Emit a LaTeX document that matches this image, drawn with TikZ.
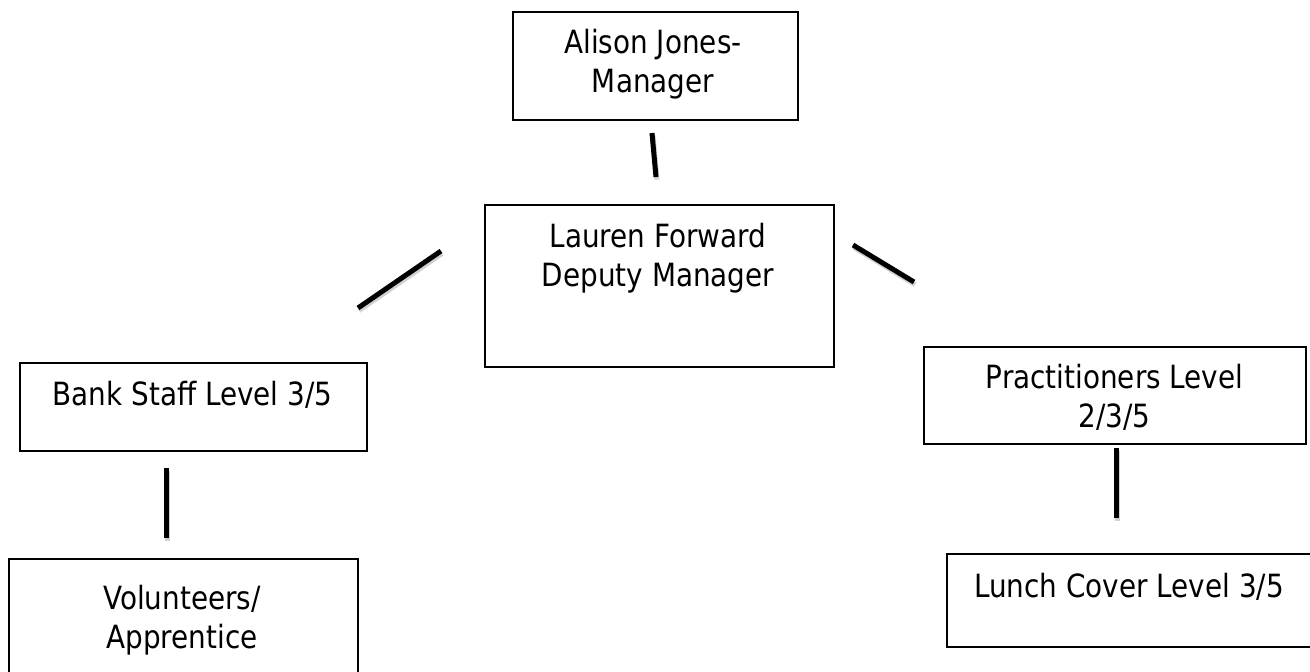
\documentclass[tikz,border=0pt]{standalone}
\usepackage{fontspec}
\setmainfont{DejaVu Sans}[FakeStretch=0.87]
\begin{document}
\begin{tikzpicture}[x=1pt,y=-1pt,
  box/.style={draw, line width=1.6pt, rectangle, inner sep=0pt, anchor=north west},
  lbl/.style={anchor=base, align=center, inner sep=0pt, font=\fontsize{32}{39}\selectfont},
  link/.style={line width=5pt, black},
  linkshadow/.style={line width=5pt, black!18}]
\useasboundingbox (0,0) rectangle (1310,672);
\begin{scope}
\clip (0,0) rectangle (1310,672);
% boxes
\node[box, minimum width=285pt, minimum height=108pt] (alison) at (512,11) {};
\node[box, minimum width=349pt, minimum height=162pt] (lauren) at (484,204) {};
\node[box, minimum width=347pt, minimum height=88pt] (bank) at (19,362) {};
\node[box, minimum width=382pt, minimum height=97pt] (prac) at (923,346) {};
\node[box, minimum width=349pt, minimum height=140pt] (vol) at (8,558) {};
\node[box, minimum width=366pt, minimum height=93pt] (lunch) at (946,553) {};
% labels (multi-line: anchor at last baseline)
\node[lbl] (alisonT) at (653,92) {Alison Jones-\\Manager};
\node[lbl] (laurenT) at (658,286) {Lauren Forward\\Deputy Manager};
\node[lbl] (bankT) at (192.5,405) {Bank Staff Level 3/5};
\node[lbl] (pracT) at (1114.5,427) {Practitioners Level\\2/3/5};
\node[lbl] (volT) at (182,648) {Volunteers/\\Apprentice};
\node[lbl] (lunchT) at (1129,597) {Lunch Cover Level 3/5};
% connector end points
\coordinate (a1) at (652,133); \coordinate (a2) at (656,177);
\coordinate (b1) at (441,251); \coordinate (b2) at (358,308);
\coordinate (c1) at (853,245); \coordinate (c2) at (914,282);
\coordinate (d1) at (166,468); \coordinate (d2) at (166,538);
\coordinate (e1) at (1116,448); \coordinate (e2) at (1116,518);
% shadows
\foreach \p/\q in {a1/a2,b1/b2,c1/c2,d1/d2,e1/e2}
  \draw[linkshadow] ([shift={(1,2.5)}]\p) -- ([shift={(1,2.5)}]\q);
% connectors
\draw[link] (a1) -- (a2);
\draw[link] (b1) -- (b2);
\draw[link] (c1) -- (c2);
\draw[link] (d1) -- (d2);
\draw[link] (e1) -- (e2);
\end{scope}
\end{tikzpicture}
\end{document}
